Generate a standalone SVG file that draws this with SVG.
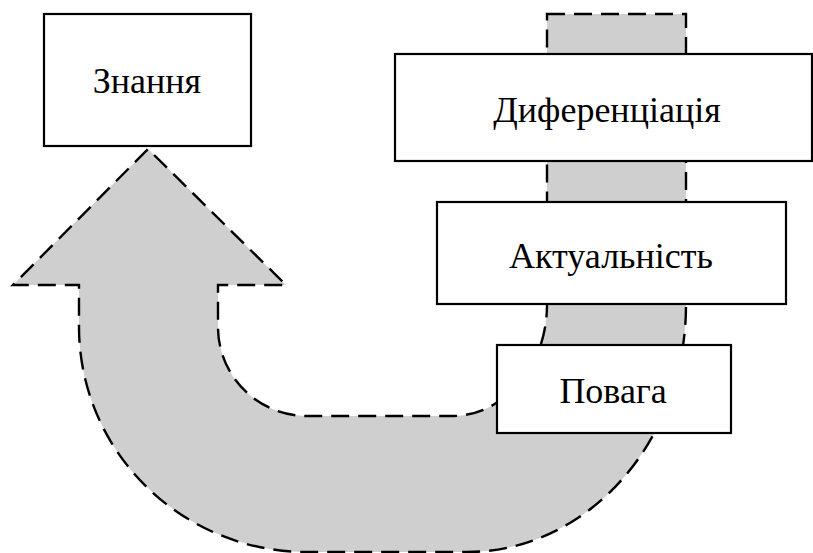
<svg xmlns="http://www.w3.org/2000/svg" width="813" height="553" viewBox="0 0 813 553">
<style>
.box{fill:#fff;stroke:#000;stroke-width:2.2}
.lbl{font-family:"Liberation Serif","Times New Roman",serif;font-size:36px;fill:#000;text-anchor:middle}
.arrow{fill:#d0cfd0;stroke:#000;stroke-width:2.4;stroke-dasharray:18 9}
</style>
<g id="connectors">
<path class="arrow" d="M547,14 L686,14 L686,305 A219,247 0 0 1 467,552 L307,552 A228,225 0 0 1 79,327 L79,285 L13,285 L148,149 L286,285 L218,285 L218,327 A89,89 0 0 0 307,416 L453,416 A95,111 0 0 0 547,305 Z"/>
</g>
<g id="node-znannia">
<rect class="box" x="44" y="14" width="207" height="132"/>
<text class="lbl" x="147" y="93">Знання</text>
</g>
<g id="node-dyferentsiatsiia">
<rect class="box" x="395" y="54" width="417" height="107"/>
<text class="lbl" x="607" y="122">Диференціація</text>
</g>
<g id="node-aktualnist">
<rect class="box" x="437" y="202" width="349" height="102"/>
<text class="lbl" x="611" y="268">Актуальність</text>
</g>
<g id="node-povaha">
<rect class="box" x="497" y="345" width="234" height="88"/>
<text class="lbl" x="613" y="403">Повага</text>
</g>
</svg>
